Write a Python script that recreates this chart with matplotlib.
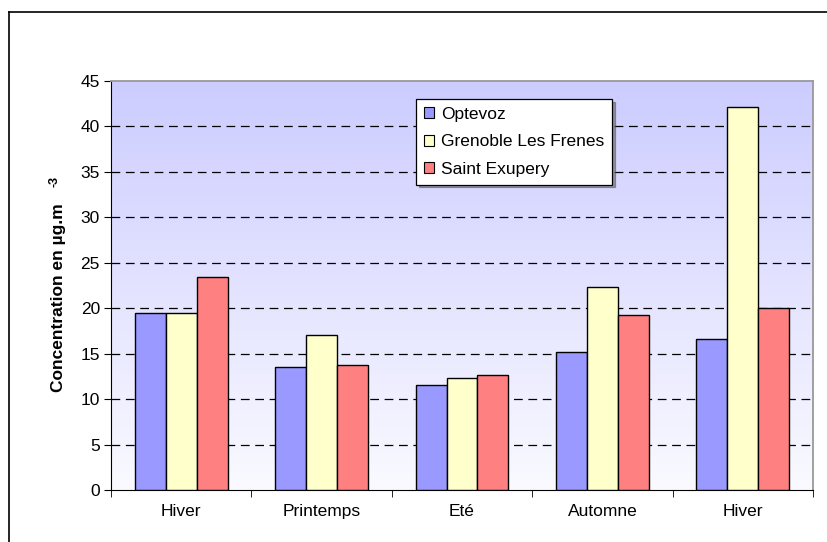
import numpy as np
import matplotlib
matplotlib.use("Agg")
import matplotlib.pyplot as plt
from matplotlib.lines import Line2D
from matplotlib.patches import Patch

plt.rcParams["font.family"] = ["Liberation Sans", "DejaVu Sans"]

seasons = ["Hiver", "Printemps", "Eté", "Automne", "Hiver"]
optevoz = [19.5, 13.5, 11.6, 15.2, 16.6]
grenoble = [19.5, 17.1, 12.3, 22.3, 42.1]
exupery = [23.4, 13.7, 12.6, 19.2, 20.0]
series = ["Optevoz", "Grenoble Les Frenes", "Saint Exupery"]
colors = ["#9999FF", "#FFFFCC", "#FF8080"]

W, H = 827, 542
fig = plt.figure(figsize=(W / 100, H / 100), dpi=100)
ax = fig.add_axes([111 / W, 1 - 490 / H, (813 - 111) / W, (490 - 81) / H])

# outer frame (clipped by the image edge on right/bottom)
fig.add_artist(Line2D([9 / W, 9 / W], [-0.01, 1 - 12 / H], color="black", lw=1.2))
fig.add_artist(Line2D([9 / W, 1.01], [1 - 12 / H, 1 - 12 / H], color="black", lw=1.2))

# plot-area gradient (lavender at top to near-white at bottom)
grad = np.linspace(0, 1, 256).reshape(-1, 1)
top = np.array([204, 204, 255]) / 255
bot = np.array([250, 250, 255]) / 255
img = bot + (top - bot) * grad
ax.imshow(img[:, None, :].repeat(2, axis=1), extent=(-0.5, 4.5, 0, 45),
          origin="lower", aspect="auto", zorder=0)

x = np.arange(len(seasons))
w = 0.22
for k, (vals, c) in enumerate(zip([optevoz, grenoble, exupery], colors)):
    ax.bar(x + (k - 1) * w, vals, w, color=c, edgecolor="black", lw=1.0, zorder=3)

ax.set_xlim(-0.5, 4.5)
ax.set_ylim(0, 45)
ax.set_yticks(range(0, 50, 5))
for yv in range(5, 45, 5):
    ax.axhline(yv, color="black", lw=0.9, ls=(0, (7, 4.5)), zorder=1)

ax.set_xticks(x)
ax.set_xticklabels(seasons, fontsize=12.5)
ax.set_xticks(np.arange(-0.5, 5, 1), minor=True)
ax.tick_params(axis="x", which="major", length=0, pad=10)
ax.tick_params(axis="x", which="minor", length=5, direction="out", color="black")
ax.tick_params(axis="y", length=5, direction="out", labelsize=12.5, pad=3)

for s in ["left", "bottom"]:
    ax.spines[s].set_color("black")
for s in ["top", "right"]:
    ax.spines[s].set_color("#999999")
    ax.spines[s].set_linewidth(1.3)

# y label with detached "-3" exponent, as in the original
fig.text(59 / W, 1 - 298 / H, "Concentration en µg.m", rotation=90, ha="center",
         va="center", fontsize=12.5, fontweight="bold")
fig.text(55 / W, 1 - 181 / H, "-3", rotation=90, ha="center", va="center",
         fontsize=9, fontweight="bold")

handles = [Patch(facecolor=c, edgecolor="black", lw=0.8) for c in colors]
leg = ax.legend(handles, series, loc="upper left", bbox_to_anchor=(0.4345, 0.956),
                fontsize=12.5, frameon=True, fancybox=False, shadow=True,
                handlelength=0.6, handleheight=0.6, handletextpad=0.4,
                labelspacing=0.72, borderpad=0.45, borderaxespad=0)
leg.get_frame().set_edgecolor("black")
leg.get_frame().set_linewidth(0.9)
leg.set_zorder(5)

fig.savefig("out.png", dpi=100)
